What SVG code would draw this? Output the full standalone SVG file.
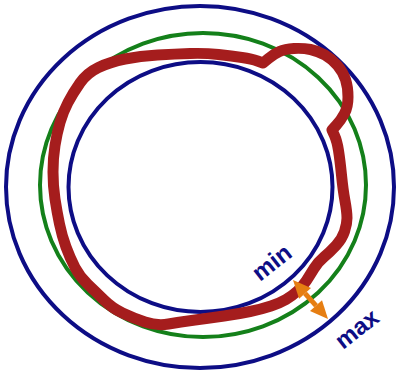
<svg xmlns="http://www.w3.org/2000/svg" width="398" height="374" viewBox="0 0 398 374">
<style>
.blue{fill:none;stroke:#0d0d85;stroke-width:4}
.green{fill:none;stroke:#14801a;stroke-width:4}
.red{fill:none;stroke:#a51d1d;stroke-width:11;stroke-linejoin:round;stroke-linecap:round}
.lbl{font-family:"Liberation Sans",Arial,sans-serif;font-weight:bold;font-size:24px;fill:#0d0d85}
.orange{fill:#e67e12}
</style>
<rect width="398" height="374" fill="#ffffff"/>
<g id="outer-max"><ellipse class="blue" cx="200" cy="187" rx="194" ry="181"/></g>
<g id="inner-min"><ellipse class="blue" cx="200.5" cy="187" rx="132" ry="125"/></g>
<g id="nominal"><ellipse class="green" cx="203" cy="185" rx="163" ry="152"/></g>
<g id="actual"><path class="red" d="M80,83 Q87,73 98.5,67.5 Q110,62 125,59 Q140,56 157.5,55 Q175,54 190,53.5 Q205,53 218.5,54.5 Q232,56 242,57.5 Q252,59 257.5,61 L263,63 L268.5,58.5 Q274,54 279.5,51.5 Q285,49 294,48.5 Q303,48 310.5,49.5 Q318,51 325,55 Q332,59 337.5,65.5 Q343,72 345.5,79.5 Q348,87 348,97 Q348,107 344.5,113.5 Q341,120 336.5,125 L332,130 L334.5,135.5 Q337,141 338.5,150.5 Q340,160 341.5,175 Q343,190 345,201 Q347,212 347,218 Q347,224 344.5,231.5 Q342,239 336,245.5 Q330,252 324,257 Q318,262 314,268.5 Q310,275 306.5,280.5 Q303,286 297.5,291 Q292,296 286,299.5 Q280,303 271,306 Q262,309 250,311.5 Q238,314 224,316 Q210,318 195,320 Q180,322 168.5,324 Q157,326 145,322 Q133,318 122.5,313 Q112,308 104,300 Q96,292 88,284.5 Q80,277 75,267.5 Q70,258 66,247 Q62,236 59.5,224 Q57,212 55,199 Q53,186 53,172 Q53,158 55,145.5 Q57,133 60,122.5 Q63,112 68,102.5 Q73,93 80,83 Z"/></g>
<g id="connectors">
<line x1="305" y1="293.4" x2="316" y2="305.6" stroke="#e67e12" stroke-width="5"/>
<polygon class="orange" points="293,280 299.1,298.7 311,288.1"/>
<polygon class="orange" points="328,319 310,311 322,300.3"/>
</g>
<g id="labels">
<text class="lbl" transform="translate(260,282) rotate(-38)">min</text>
<text class="lbl" transform="translate(343,350) rotate(-38)">max</text>
</g>
</svg>
